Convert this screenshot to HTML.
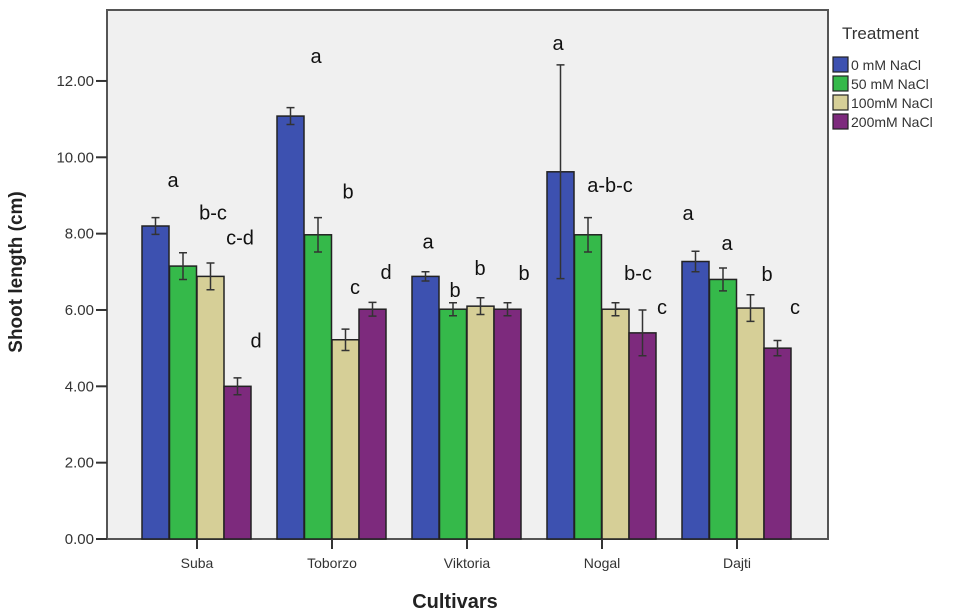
<!DOCTYPE html>
<html><head><meta charset="utf-8"><style>
body{margin:0;background:#fff;}
svg{display:block;font-family:"Liberation Sans",sans-serif;}
</style></head><body>
<svg id="chart" width="953" height="615" viewBox="0 0 953 615">
<rect x="107" y="10" width="721" height="529" fill="#f0f0f0" stroke="#555" stroke-width="2"/>
<g id="bars"></g>
<g id="axes"></g>
<g id="letters"></g>
<text x="22" y="272" transform="rotate(-90 22 272)" text-anchor="middle" font-size="19" font-weight="bold" fill="#222">Shoot length (cm)</text>
<text x="455" y="608" text-anchor="middle" font-size="20" font-weight="bold" fill="#222">Cultivars</text>
<g>
<text x="842" y="39" font-size="17" fill="#333">Treatment</text>
<g id="legend"></g>
</g>
</svg>
<script>
const categories=["Suba","Toborzo","Viktoria","Nogal","Dajti"];
const seriesNames=["0 mM NaCl","50 mM NaCl","100mM NaCl","200mM NaCl"];
const s0=[8.2,11.08,6.88,9.62,7.27];
const s1=[7.15,7.97,6.02,7.97,6.8];
const s2=[6.88,5.22,6.1,6.02,6.05];
const s3=[4.0,6.02,6.02,5.4,5.0];
const e0=[0.22,0.22,0.12,2.8,0.27];
const e1=[0.35,0.45,0.17,0.45,0.3];
const e2=[0.35,0.28,0.22,0.17,0.35];
const e3=[0.22,0.18,0.17,0.6,0.2];
const letters0=["a","a","a","a","a"];
const letters1=["b-c","b","b","a-b-c","a"];
const letters2=["c-d","c","b","b-c","b"];
const letters3=["d","d","b","c","c"];
const letterY0=[9.4,12.65,7.8,13.0,8.54];
const letterY1=[8.55,9.1,6.52,9.27,7.75];
const letterY2=[7.9,6.6,7.1,6.97,6.94];
const letterY3=[5.2,7.0,6.97,6.08,6.08];
const letterDX0=[-24,-16,-39,-44,-49];
const letterDX1=[16,16,-12,8,-10];
const letterDX2=[43,23,13,36,30];
const letterDX3=[59,54,57,60,58];
const yTicks=[0,2,4,6,8,10,12];
const colors=["#3d51b0","#35b94a","#d6cf97","#7d2a7d"];
const NS="http://www.w3.org/2000/svg";
const y0=539,pxPer=38.17;
function y(v){return y0-v*pxPer;}
function xc(i){return 197+i*135;}
function el(t,a,p){const e=document.createElementNS(NS,t);for(const k in a)e.setAttribute(k,a[k]);p.appendChild(e);return e;}
const series=[s0,s1,s2,s3],errs=[e0,e1,e2,e3],lets=[letters0,letters1,letters2,letters3],lys=[letterY0,letterY1,letterY2,letterY3],ldx=[letterDX0,letterDX1,letterDX2,letterDX3];
const offs=[-41.5,-14,13.5,40.5];
const bars=document.getElementById('bars'),axes=document.getElementById('axes'),lg=document.getElementById('letters');
categories.forEach((c,i)=>{
  series.forEach((s,j)=>{
    const cx=xc(i)+offs[j],w=27;
    const r=el('rect',{x:cx-w/2,y:y(s[i]),width:w,height:y0-y(s[i]),fill:colors[j],stroke:'#222','stroke-width':1.5},bars);
    
    
    const t=y(s[i]+errs[j][i]),b=y(s[i]-errs[j][i]);
    const g=el('path',{d:`M${cx} ${t}V${b}M${cx-4} ${t}H${cx+4}M${cx-4} ${b}H${cx+4}`,stroke:'#333','stroke-width':1.5,fill:'none'},bars);
    
    
    const tx=el('text',{x:xc(i)+ldx[j][i],y:y(lys[j][i])+7,'text-anchor':'middle','font-size':20,fill:'#111'},lg);
    tx.textContent=lets[j][i];
    
    
  });
  el('line',{x1:xc(i),x2:xc(i),y1:y0,y2:y0+10,stroke:'#333','stroke-width':2},axes);
  const tl=el('text',{x:xc(i),y:y0+29,'text-anchor':'middle','font-size':14,fill:'#333'},axes);
  tl.textContent=c;
  
  
});
yTicks.forEach(v=>{
  el('line',{x1:96,x2:107,y1:y(v),y2:y(v),stroke:'#333','stroke-width':2},axes);
  const t=el('text',{x:94,y:y(v)+5,'text-anchor':'end','font-size':15,fill:'#333'},axes);
  t.textContent=v.toFixed(2);
  
  
});
const leg=document.getElementById('legend');
seriesNames.forEach((n,j)=>{
  const yy=57+j*19;
  const r=el('rect',{x:833,y:yy,width:15,height:15,fill:colors[j],stroke:'#222','stroke-width':1.2},leg);
  
  
  const t=el('text',{x:851,y:yy+13,'font-size':14,fill:'#333'},leg);
  t.textContent=n;
  
  
});
</script>
</body></html>
